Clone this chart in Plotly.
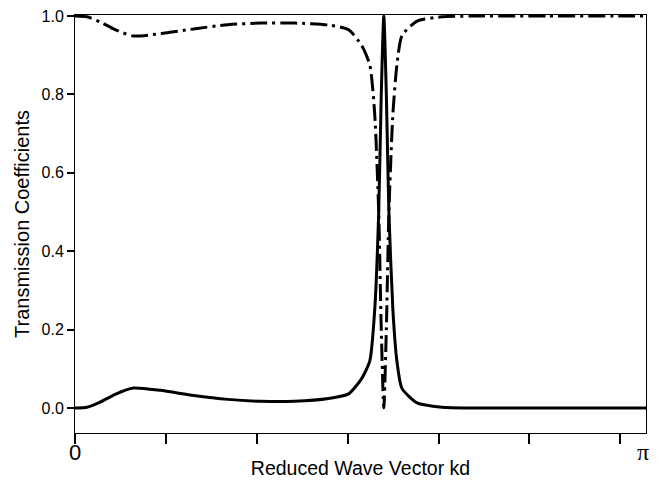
import math
import plotly.graph_objects as go

# Reduced wave vector kd
kd = [0.0, 0.066, 0.138, 0.221, 0.321, 0.470, 0.653, 0.841, 1.024, 1.207,
      1.395, 1.505, 1.577, 1.622, 1.649, 1.671, 1.685, 1.699, 1.713, 1.727,
      1.749, 1.771, 1.799, 1.882, 2.020, 2.186, 2.600, 3.000, math.pi]

# Solid curve (transmission coefficient 1)
t_solid = [0.0, 0.002, 0.015, 0.035, 0.051, 0.045, 0.032, 0.022, 0.017, 0.017,
           0.024, 0.036, 0.075, 0.12, 0.25, 0.5, 0.8, 1.0, 0.8, 0.5,
           0.25, 0.12, 0.05, 0.013, 0.002, 0.0, 0.0, 0.0, 0.0]

# Dash-dot curve (transmission coefficient 2)
t_dashdot = [1.0, 0.998, 0.985, 0.965, 0.949, 0.955, 0.967, 0.978, 0.982, 0.982,
             0.977, 0.965, 0.925, 0.875, 0.75, 0.5, 0.2, 0.0, 0.2, 0.5,
             0.75, 0.875, 0.95, 0.987, 0.998, 1.0, 1.0, 1.0, 1.0]

x_label_vals = [0, math.pi]
x_label_text = ["0", "<span style='font-family:Liberation Serif, serif;font-size:24px'>π&nbsp;</span>"]
x_minor_vals = [0, 0.5, 1.0, 1.5, 2.0, 2.5, 3.0]
y_tickvals = [0.0, 0.2, 0.4, 0.6, 0.8, 1.0]
y_ticktext = ["0.0", "0.2", "0.4", "0.6", "0.8", "1.0"]

fig = go.Figure()
fig.add_trace(go.Scatter(x=kd, y=t_dashdot, mode="lines",
                         line=dict(color="black", width=3, dash="17px,5px,3px,5px",
                                   shape="spline", smoothing=0.6),
                         showlegend=False))
fig.add_trace(go.Scatter(x=kd, y=t_solid, mode="lines",
                         line=dict(color="black", width=3, shape="spline", smoothing=0.6),
                         showlegend=False))

# page body has an 8px default margin; size the figure to fit inside it
fig.update_layout(
    width=647, height=471,
    margin=dict(l=67, r=9, t=7, b=46, autoexpand=False),
    paper_bgcolor="white", plot_bgcolor="white",
    font=dict(family="Liberation Sans, Arial, sans-serif", color="black"),
    xaxis=dict(range=[0, math.pi], tickvals=x_label_vals, ticktext=x_label_text,
               ticks="",
               minor=dict(tickvals=x_minor_vals, ticks="outside", ticklen=10,
                          tickwidth=1.5, tickcolor="black", showgrid=False),
               showline=True, linecolor="black", linewidth=1, mirror=True,
               showgrid=False, zeroline=False, automargin=False,
               ticklabeloverflow="allow", ticklabelstandoff=0,
               tickfont=dict(size=22),
               title=dict(text="Reduced Wave Vector kd", font=dict(size=19.5), standoff=7)),
    yaxis=dict(range=[-0.0638, 1.0026], tickvals=y_tickvals, ticktext=y_ticktext,
               ticks="outside", ticklen=7, tickwidth=2, tickcolor="black",
               showline=True, linecolor="black", linewidth=1, mirror=True,
               showgrid=False, zeroline=False, automargin=False,
               ticklabeloverflow="allow",
               tickfont=dict(size=16),
               title=dict(text="Transmission Coefficients", font=dict(size=20), standoff=6)),
)

fig.write_html("out.html")
